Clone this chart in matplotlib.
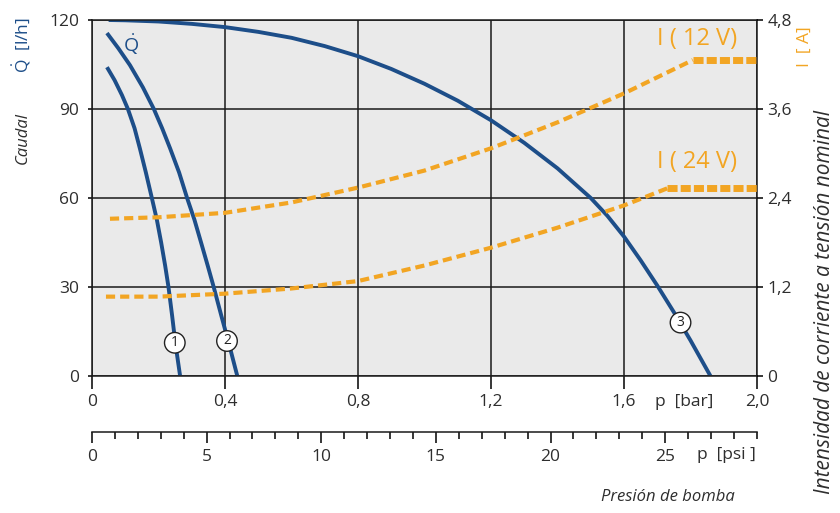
import matplotlib
matplotlib.use("Agg")
import matplotlib.pyplot as plt

plt.rcParams['font.family'] = ['Open Sans', 'DejaVu Sans']
plt.rcParams['mathtext.fontset'] = 'custom'
plt.rcParams['mathtext.rm'] = 'Open Sans'

# pump curves, p [bar] vs Q [l/h]
p1 = [0.045, 0.068, 0.090, 0.108, 0.128, 0.144, 0.162, 0.180, 0.195, 0.208, 0.220,
      0.230, 0.241, 0.251, 0.265]
q1 = [104.1, 99.7, 94.7, 90.0, 83.5, 76.7, 68.6, 60.0, 52.7, 45.0, 37.2, 30.0, 20.3,
      10.8, 0.0]

p2 = [0.045, 0.079, 0.114, 0.153, 0.186, 0.211, 0.235, 0.262, 0.286, 0.308, 0.328,
      0.348, 0.366, 0.389, 0.412, 0.437]
q2 = [115.6, 110.5, 104.8, 97.3, 90.0, 83.5, 76.7, 68.6, 60.0, 52.7, 45.0, 37.2,
      30.0, 20.3, 10.8, 0.0]

p3 = [0.05, 0.1, 0.2, 0.3, 0.4, 0.5, 0.6, 0.7, 0.8, 0.9, 1.0, 1.1, 1.2, 1.3, 1.4,
      1.5, 1.55, 1.6, 1.65, 1.7, 1.75, 1.8, 1.86]
q3 = [120.0, 119.9, 119.5, 118.7, 117.6, 116.0, 114.0, 111.2, 107.8, 103.5, 98.5,
      92.8, 86.2, 78.6, 70.0, 60.0, 54.0, 47.0, 39.0, 30.5, 21.5, 12.0, 0.0]

# current at nominal voltage, p [bar] vs I [A]
p_i12 = [0.054, 0.2, 0.4, 0.6, 0.8, 1.0, 1.2, 1.4, 1.6, 1.807, 2.0]
i12 = [2.12, 2.14, 2.20, 2.34, 2.54, 2.77, 3.07, 3.42, 3.81, 4.26, 4.26]

p_i24 = [0.042, 0.2, 0.4, 0.6, 0.8, 1.0, 1.2, 1.4, 1.6, 1.73, 2.0]
i24 = [1.07, 1.07, 1.11, 1.18, 1.28, 1.49, 1.73, 2.00, 2.30, 2.53, 2.53]

bar_ticks = [0, 0.4, 0.8, 1.2, 1.6, 2.0]
bar_labels = ["0", "0,4", "0,8", "1,2", "1,6", "2,0"]
q_ticks = [0, 30, 60, 90, 120]
i_ticks = [0, 1.2, 2.4, 3.6, 4.8]
i_labels = ["0", "1,2", "2,4", "3,6", "4,8"]
psi_ticks = [0, 5, 10, 15, 20, 25]
psi_minor = list(range(0, 30))

BAR_TO_PSI = 14.5038
BLUE = "#1d4e89"
ORANGE = "#f2a523"
TXT = "#2e2e2e"

fig = plt.figure(figsize=(8.4, 5.13), dpi=100)
ax = fig.add_axes([92 / 840, 1 - 376 / 513, 665 / 840, 356 / 513])
ax.set_facecolor("#eaeaea")
ax.set_xlim(0, 2.0)
ax.set_ylim(0, 120)

ax.set_xticks(bar_ticks)
ax.set_xticklabels(bar_labels)
ax.set_yticks(q_ticks)
ax.grid(True, color="#1a1a1a", linewidth=1.1)
for s in ax.spines.values():
    s.set_color("#1a1a1a")
    s.set_linewidth(1.1)
ax.tick_params(axis="x", length=9, width=1.1, pad=4, labelsize=12.5, labelcolor=TXT)
ax.tick_params(axis="y", length=3, width=1.1, pad=6, labelsize=12.5, labelcolor=TXT)

ax.plot(p1, q1, color=BLUE, lw=2.8, solid_capstyle="butt", solid_joinstyle="round")
ax.plot(p2, q2, color=BLUE, lw=2.8, solid_capstyle="butt", solid_joinstyle="round")
ax.plot(p3, q3, color=BLUE, lw=2.8, solid_capstyle="butt", solid_joinstyle="round")

for txt, (x, y) in zip(["1", "2", "3"], [(0.249, 11.2), (0.406, 11.8), (1.77, 18.0)]):
    ax.text(x, y, txt, ha="center", va="center", fontsize=10, color="#222222",
            bbox=dict(boxstyle="circle,pad=0.2", fc="white", ec="#222222", lw=1.0))

ax.text(0.117, 111.5, r"$\dot{\mathrm{Q}}$", color=BLUE, fontsize=14, ha="center", va="center")

ax2 = ax.twinx()
ax2.set_ylim(0, 4.8)
ax2.set_yticks(i_ticks)
ax2.set_yticklabels(i_labels)
ax2.tick_params(axis="y", length=4.5, width=1.1, pad=3, labelsize=12.5, labelcolor=TXT)
for s in ax2.spines.values():
    s.set_visible(False)

for px, iv in [(p_i12, i12), (p_i24, i24)]:
    ax2.plot(px[:-1], iv[:-1], color=ORANGE, lw=3, dashes=(2.2, 1.2))
    ax2.plot(px[-2:], iv[-2:], color=ORANGE, lw=5, dashes=(1.45, 0.45))

ax2.text(1.82, 4.54, "I ( 12 V)", color=ORANGE, fontsize=17, ha="center", va="center")
ax2.text(1.82, 2.88, "I ( 24 V)", color=ORANGE, fontsize=17, ha="center", va="center")

# psi scale under the bar scale
psi = ax.secondary_xaxis(-0.157, functions=(lambda b: b * BAR_TO_PSI,
                                            lambda s: s / BAR_TO_PSI))
psi.set_xticks(psi_ticks)
psi.set_xticks(psi_minor, minor=True)
psi.tick_params(which="major", length=8, width=1.1, pad=4, labelsize=12.5, labelcolor=TXT)
psi.tick_params(which="minor", length=5, width=1.1)
psi.spines["bottom"].set_linewidth(1.1)
psi.spines["bottom"].set_color("#1a1a1a")

fig.text(684 / 840, 1 - 402 / 513, "p  [bar]", fontsize=12.5, color=TXT, ha="center", va="center")
fig.text(726 / 840, 1 - 455 / 513, "p  [psi ]", fontsize=12.5, color=TXT, ha="center", va="center")
fig.text(668 / 840, 1 - 497 / 513, "Presión de bomba", fontsize=12, style="italic",
         color=TXT, ha="center", va="center")

fig.text(22 / 840, 1 - 45 / 513, r"$\dot{\mathrm{Q}}$  [l/h]", fontsize=12.5, color=BLUE,
         rotation=90, ha="center", va="center")
fig.text(23 / 840, 1 - 138 / 513, "Caudal", fontsize=12, style="italic", color=TXT,
         rotation=90, ha="center", va="center")
fig.text(805 / 840, 1 - 47 / 513, "I  [ A]", fontsize=12.5, color=ORANGE, rotation=90,
         ha="center", va="center")
fig.text(825 / 840, 1 - 302 / 513, "Intensidad de corriente a tensión nominal", fontsize=15,
         style="italic", color=TXT, rotation=90, ha="center", va="center")

fig.savefig("out.png", dpi=100)
